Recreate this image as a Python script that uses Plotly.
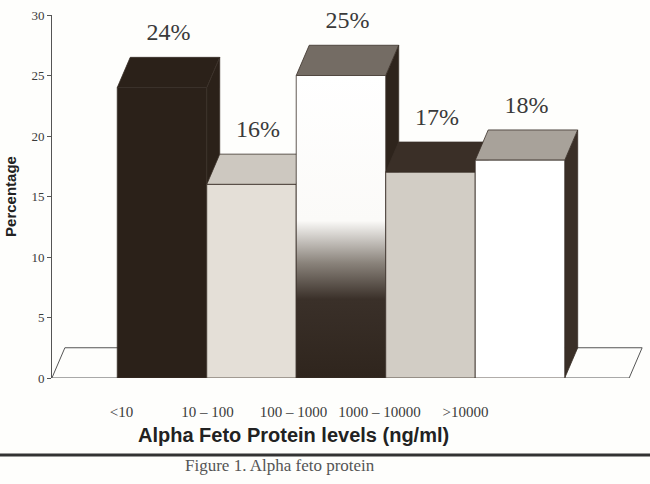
import plotly.graph_objects as go

# data
categories = ["<10", "10 – 100", "100 – 1000", "1000 – 10000", ">10000"]
percent = [24, 16, 25, 17, 18]
y_ticks = [0, 5, 10, 15, 20, 25, 30]

# pseudo-3D look: bar width and depth offset (category units / percent units)
W = 1.0
DX = 0.145
DY = 2.5

FRONT = ["#2b2119", "#e4dfd7", None, "#d2cdc5", "#ffffff"]
TOP = ["#2b2119", "#cdc8c0", "#746c64", "#3a2f27", "#a8a29a"]
SIDE = ["#2b2119", "#3a2f27", "#2e241c", "#3a2f27", "#3a2f27"]
EDGE = "#3a3028"
BAR3_GRAD = [[0, "#2f251d"], [0.26, "#3a3029"], [0.38, "#8a837b"],
             [0.52, "#fbfaf8"], [1, "#ffffff"]]

fig = go.Figure()


def poly(xs, ys, color, grad=None):
    kw = dict(fillgradient=grad) if grad else dict(fillcolor=color)
    fig.add_trace(go.Scatter(x=xs, y=ys, mode="lines", fill="toself",
                             line=dict(color=EDGE, width=0.8),
                             hoverinfo="skip", showlegend=False, **kw))


# floor plate at zero
fx0, fx1 = -1.23, 5.22
fig.add_trace(go.Scatter(x=[fx0, fx1, fx1 + DX, fx0 + DX, fx0], y=[0, 0, DY, DY, 0],
                         mode="lines", line=dict(color="#555", width=1),
                         hoverinfo="skip", showlegend=False))

# draw left to right so each bar hides the one behind it
for i, h in enumerate(percent):
    xl, xr = i - W / 2, i + W / 2
    poly([xr, xr + DX, xr + DX, xr, xr], [0, DY, h + DY, h, 0], SIDE[i])
    poly([xl, xr, xr + DX, xl + DX, xl], [h, h, h + DY, h + DY, h], TOP[i])
    if FRONT[i] is None:
        poly([xl, xr, xr, xl, xl], [0, 0, h, h, 0], None,
             grad=dict(type="vertical", start=0, stop=h, colorscale=BAR3_GRAD))
    else:
        poly([xl, xr, xr, xl, xl], [0, 0, h, h, 0], FRONT[i])

# percentage labels above each bar
fig.add_trace(go.Scatter(
    x=[i + DX / 2 for i in range(len(percent))],
    y=[h + DY + 1.9 for h in percent],
    mode="text", text=[f"{v}%" for v in percent], textposition="middle center",
    textfont=dict(family="Liberation Serif", size=24, color="#3a3a3a"),
    hoverinfo="skip", showlegend=False, cliponaxis=False))

# invisible trace to bring the label axis to life
fig.add_trace(go.Scatter(x=list(range(len(categories))), y=[0] * len(categories),
                         xaxis="x2", mode="markers", marker=dict(opacity=0),
                         hoverinfo="skip", showlegend=False))

fig.update_layout(
    width=650, height=484,
    margin=dict(l=52, r=5, t=15, b=106),
    paper_bgcolor="#fefefc", plot_bgcolor="#fefefc",
    xaxis=dict(range=[-1.229, 5.397], visible=False),
    xaxis2=dict(range=[-0.809, 6.086], overlaying="x", side="bottom",
                tickvals=list(range(len(categories))), ticktext=categories,
                showline=False, ticks="", showgrid=False, zeroline=False,
                ticklabelstandoff=23, automargin=False,
                tickfont=dict(family="Liberation Serif", size=15, color="#3a3a3a")),
    yaxis=dict(range=[0, 30], tickvals=y_ticks, showgrid=False, zeroline=False,
               showline=True, linecolor="#555", linewidth=1, automargin=False,
               ticks="outside", ticklen=4, tickcolor="#555",
               tickfont=dict(family="Liberation Serif", size=13, color="#3a3a3a"),
               title=dict(text="Percentage", standoff=11,
                          font=dict(family="Liberation Sans", size=15, color="#222",
                                    weight="bold"))),
    annotations=[
        dict(text="<b>Alpha Feto Protein levels (ng/ml)</b>", xref="paper", yref="paper",
             x=0.408, y=-0.157, xanchor="center", yanchor="middle", showarrow=False,
             font=dict(family="Liberation Sans", size=20, color="#222")),
        dict(text="Figure 1. Alpha feto protein", xref="paper", yref="paper",
             x=0.384, y=-0.242, xanchor="center", yanchor="middle", showarrow=False,
             font=dict(family="Liberation Serif", size=17, color="#555")),
    ],
    shapes=[dict(type="line", xref="paper", yref="paper", x0=-0.09, x1=1.01,
                 y0=-0.212, y1=-0.212, line=dict(color="#333", width=3))],
)

# the page body has a default 8px margin; drop it so the figure sits at 0,0
fig.write_html("out.html", config={"displayModeBar": False},
               post_script="document.body.style.margin='0';")
